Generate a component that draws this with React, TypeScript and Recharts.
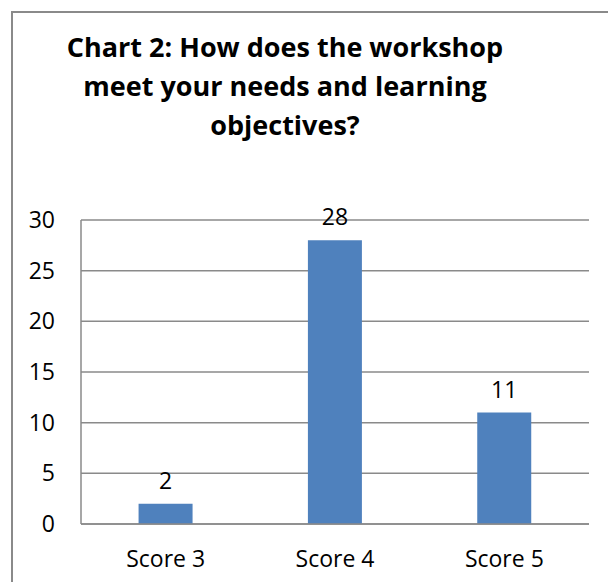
import { Bar, BarChart, CartesianGrid, LabelList, XAxis, YAxis } from "recharts"

const categories = ["Score 3", "Score 4", "Score 5"]
const counts = [2, 28, 11]
const yTicks = [0, 5, 10, 15, 20, 25, 30]
const titleLines = [
  "Chart 2: How does the workshop",
  "meet your needs and learning",
  "objectives?",
]

const chartData = categories.map((name, i) => ({ name, value: counts[i] }))

const font = "'Open Sans', sans-serif"

function App() {
  return (
    <div style={{ position: "absolute", left: 0, top: 0, width: 608, height: 582, background: "#fff", fontFamily: font }}>
      <div
        style={{
          position: "absolute", left: 11, top: 11, right: 0, bottom: 0,
          borderTop: "2px solid #8a8a8a", borderLeft: "2px solid #8a8a8a",
        }}
      />
      <div style={{ position: "absolute", left: 0, top: 27, width: 570, textAlign: "center", fontWeight: 700, fontSize: 27, lineHeight: "39px", color: "#000" }}>
        {titleLines.map((t) => (
          <div key={t}>{t}</div>
        ))}
      </div>
      <div style={{ position: "absolute", left: 0, top: 0 }}>
        <BarChart
          width={608}
          height={582}
          data={chartData}
          margin={{ top: 220, right: 19, bottom: 28, left: 0 }}
          barCategoryGap="34%"
        >
          <CartesianGrid vertical={false} stroke="#8a8a8a" strokeWidth={1.5} />
          <XAxis
            dataKey="name"
            height={30}
            tickLine={false}
            axisLine={{ stroke: "#8a8a8a", strokeWidth: 1.5 }}
            tick={{ fill: "#000", fontSize: 23, fontFamily: font }}
            tickMargin={21}
          />
          <YAxis
            width={81}
            domain={[0, 30]}
            ticks={yTicks}
            tickLine={false}
            axisLine={{ stroke: "#8a8a8a", strokeWidth: 1.5 }}
            tick={{ fill: "#000", fontSize: 23, fontFamily: font }}
            tickMargin={20}
          />
          <Bar dataKey="value" fill="#4F81BD" isAnimationActive={false}>
            <LabelList dataKey="value" position="top" offset={15} fill="#000" fontSize={23} fontFamily={font} />
          </Bar>
        </BarChart>
      </div>
    </div>
  )
}

export default App
